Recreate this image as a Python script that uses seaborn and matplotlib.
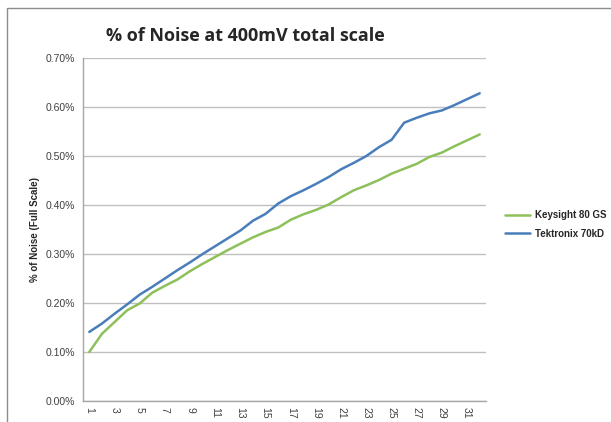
import pandas as pd
import seaborn as sns
import matplotlib.pyplot as plt
from matplotlib.patches import Rectangle
from matplotlib.ticker import FuncFormatter

# 측정 지점 (1 ~ 32)
points = list(range(1, 33))

keysight = [0.100, 0.137, 0.161, 0.185, 0.199, 0.221, 0.235, 0.248, 0.265, 0.280,
            0.294, 0.308, 0.321, 0.334, 0.345, 0.354, 0.370, 0.381, 0.390, 0.401,
            0.416, 0.430, 0.440, 0.451, 0.464, 0.474, 0.484, 0.498, 0.507, 0.520,
            0.532, 0.544]
tektronix = [0.141, 0.158, 0.178, 0.197, 0.217, 0.233, 0.250, 0.267, 0.283, 0.300,
             0.316, 0.332, 0.348, 0.368, 0.382, 0.403, 0.418, 0.430, 0.443, 0.457,
             0.473, 0.486, 0.500, 0.518, 0.533, 0.568, 0.578, 0.587, 0.593, 0.604,
             0.616, 0.628]

series_names = ['Keysight 80 GS', 'Tektronix 70kD']
colors = ['#8DC05A', '#4A7EBB']

df = pd.DataFrame({
    'point': points * 2,
    'noise': keysight + tektronix,
    'scope': [series_names[0]] * len(points) + [series_names[1]] * len(points),
})

sns.set_style('white')
plt.rcParams['font.family'] = ['Liberation Sans', 'DejaVu Sans']

fig = plt.figure(figsize=(6.11, 4.22), dpi=100)
# 바깥 테두리
fig.patches.append(Rectangle((7 / 611, -0.05), 1.1, 1 - 8 / 422 + 0.05, transform=fig.transFigure,
                             fill=False, edgecolor='#8C8C8C', linewidth=1.0))
ax = fig.add_axes([83 / 611, 1 - 401 / 422, (486 - 83) / 611, 343 / 422])

sns.lineplot(data=df, x='point', y='noise', hue='scope', palette=colors, linewidth=1.8, ax=ax)

ax.set_xlim(0.5, 32.5)
ax.set_ylim(0, 0.7)
ax.set_yticks([i / 10 for i in range(8)])
ax.yaxis.set_major_formatter(FuncFormatter(lambda v, p: f'{v:.2f}%'))
ax.set_xticks(list(range(1, 33, 2)))
ax.tick_params(axis='x', labelrotation=-90, labelsize=7.5, colors='#404040', length=0, pad=4)
ax.tick_params(axis='y', labelsize=7.5, colors='#404040', length=0, pad=6)
ax.grid(axis='y', color='#C0C0C0', linewidth=1.0)
ax.set_axisbelow(True)
for s in ['top', 'right']:
    ax.spines[s].set_visible(False)
for s in ['left', 'bottom']:
    ax.spines[s].set_color('#A6A6A6')
    ax.spines[s].set_linewidth(1.0)

ax.set_xlabel('')
ax.set_ylabel('% of Noise (Full Scale)', fontsize=7, fontweight='bold', labelpad=4)
fig.text(245 / 611, 1 - 36 / 422, '% of Noise at 400mV total scale', fontsize=13,
         fontweight='bold', ha='center', va='center', family=['Open Sans', 'DejaVu Sans'])

ax.legend(loc='center left', bbox_to_anchor=(1.025, 0.515), frameon=False,
          handlelength=2.6, handletextpad=0.5, labelspacing=0.9,
          prop={'weight': 'bold', 'size': 7})

fig.savefig('out.png', dpi=100)
